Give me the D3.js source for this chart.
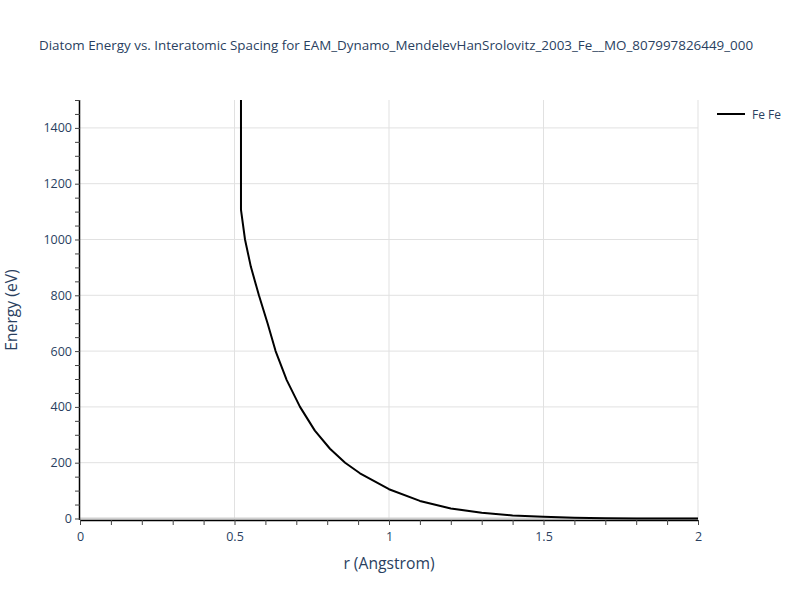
<!DOCTYPE html>
<html>
<head>
<meta charset="utf-8">
<script src="https://cdn.jsdelivr.net/npm/d3@7"></script>
<style>
  body { margin: 0; background: #fff; }
  svg { font-family: "Open Sans", verdana, arial, sans-serif; }
</style>
</head>
<body>
<svg id="chart" width="800" height="600"></svg>
<script>
// --- Data ---
const seriesName = "Fe Fe";
const rValues = [0.5199, 0.521, 0.534, 0.553, 0.579, 0.607, 0.633, 0.669, 0.712, 0.760,
    0.809, 0.858, 0.906, 1.0, 1.1, 1.2, 1.3, 1.4, 1.5, 1.6, 1.7, 1.8, 1.9, 2.0];
const energyValues = [20000, 1106, 1000, 902, 800, 700, 600, 496, 400, 315,
    250, 200, 162, 105, 63, 36, 21, 11, 6, 3, 1.2, 0.4, 0.1, 0];
const xTicks = [0, 0.5, 1, 1.5, 2];
const yTicks = [0, 200, 400, 600, 800, 1000, 1200, 1400];

const titleText = "Diatom Energy vs. Interatomic Spacing for EAM_Dynamo_MendelevHanSrolovitz_2003_Fe__MO_807997826449_000";

// --- Layout ---
const plotLeft = 80, plotRight = 698, plotTop = 100, plotBottom = 520;
const textColor = "#2a3f5f";

const svg = d3.select("#chart");

const x = d3.scaleLinear().domain([0, 2]).range([plotLeft, plotRight]);
const y = d3.scaleLinear().domain([-5.4, 1500]).range([plotBottom, plotTop]);

// clip for the curve
svg.append("defs").append("clipPath").attr("id", "plotClip")
    .append("rect")
    .attr("x", plotLeft).attr("y", plotTop)
    .attr("width", plotRight - plotLeft).attr("height", plotBottom - plotTop);

// Gridlines
const grid = svg.append("g");
grid.selectAll(".ygrid")
    .data(yTicks.filter(d => d !== 0))
    .enter().append("line")
    .attr("x1", plotLeft).attr("x2", plotRight)
    .attr("y1", d => y(d)).attr("y2", d => y(d))
    .attr("stroke", "#e1e1e1").attr("stroke-width", 1);
grid.selectAll(".xgrid")
    .data(xTicks.filter(d => d !== 0))
    .enter().append("line")
    .attr("x1", d => x(d)).attr("x2", d => x(d))
    .attr("y1", plotTop).attr("y2", plotBottom)
    .attr("stroke", "#e1e1e1").attr("stroke-width", 1);

// zero line
svg.append("line")
    .attr("x1", plotLeft).attr("x2", plotRight)
    .attr("y1", y(0)).attr("y2", y(0))
    .attr("stroke", "#d0d0d0").attr("stroke-width", 2);

// --- Axes ---
const xAxis = d3.axisBottom(x)
    .tickValues(d3.range(0, 2.0001, 0.1).map(v => +v.toFixed(1)))
    .tickSize(5)
    .tickFormat(d => xTicks.includes(d) ? d3.format("~g")(d) : "");
const gx = svg.append("g")
    .attr("transform", `translate(0,${plotBottom})`)
    .call(xAxis);

const yAxis = d3.axisLeft(y)
    .tickValues(d3.range(0, 1501, 50))
    .tickSize(5)
    .tickFormat(d => yTicks.includes(d) ? d : "");
const gy = svg.append("g")
    .attr("transform", `translate(${plotLeft},0)`)
    .call(yAxis);

[gx, gy].forEach(g => {
    g.select(".domain").attr("stroke", "#000").attr("stroke-width", 1.5);
    g.selectAll(".tick line").attr("stroke", "#444");
    g.selectAll(".tick text")
        .attr("fill", textColor)
        .style("font-size", "12.5px")
        .style("font-family", "\"Open Sans\", verdana, arial, sans-serif");
});
gx.select(".domain").attr("d", `M${plotLeft},0.5H${plotRight}`);
gy.select(".domain").attr("d", `M-0.5,${plotTop}V${plotBottom}`);
gx.selectAll(".tick text").attr("dy", "1.05em");
gy.selectAll(".tick text").attr("x", -8);

// --- Curve ---
const points = rValues.map((r, i) => [r, energyValues[i]]);
const line = d3.line().x(d => x(d[0])).y(d => y(d[1]));

svg.append("path")
    .datum(points)
    .attr("clip-path", "url(#plotClip)")
    .attr("d", line)
    .attr("fill", "none")
    .attr("stroke", "#000")
    .attr("stroke-width", 2)
    .attr("stroke-linejoin", "round");

// --- Titles ---
svg.append("text")
    .attr("x", 396).attr("y", 50)
    .attr("text-anchor", "middle")
    .attr("fill", textColor)
    .style("font-size", "13.4px")
    .text(titleText);

svg.append("text")
    .attr("x", 389).attr("y", 569)
    .attr("text-anchor", "middle")
    .attr("fill", textColor)
    .style("font-size", "15.7px")
    .text("r (Angstrom)");

svg.append("text")
    .attr("transform", `translate(17,310) rotate(-90)`)
    .attr("text-anchor", "middle")
    .attr("fill", textColor)
    .style("font-size", "15.7px")
    .text("Energy (eV)");

// --- Legend ---
const legend = svg.append("g").attr("transform", "translate(717,114)");
legend.append("line")
    .attr("x1", 0).attr("x2", 28)
    .attr("stroke", "#000").attr("stroke-width", 2);
legend.append("text")
    .attr("x", 35).attr("y", 4.5)
    .attr("fill", textColor)
    .style("font-size", "12px")
    .text(seriesName);
</script>
</body>
</html>
